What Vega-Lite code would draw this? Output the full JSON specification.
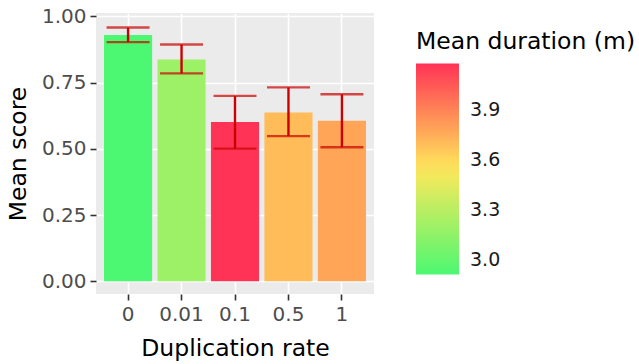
{
  "$schema": "https://vega.github.io/schema/vega-lite/v6.json",
  "autosize": {"type": "none"},
  "width": 278,
  "height": 281,
  "padding": {"left": 96, "top": 13, "right": 265, "bottom": 70},
  "background": "white",
  "config": {
    "font": "DejaVu Sans",
    "view": {"fill": "#EBEBEB", "stroke": null},
    "axis": {
      "domain": false,
      "grid": true,
      "gridColor": "white",
      "gridWidth": 1.6,
      "tickColor": "#333333",
      "tickWidth": 1.6,
      "tickSize": 6,
      "labelColor": "#4D4D4D",
      "labelFontSize": 20,
      "titleFontSize": 23.5,
      "titleFontWeight": "normal",
      "titleColor": "black"
    },
    "legend": {
      "titleFontSize": 23.5,
      "titleFontWeight": "normal",
      "titleColor": "black",
      "titleLimit": 400,
      "labelFontSize": 19,
      "labelColor": "#1A1A1A"
    }
  },
  "data": {
    "values": [
      {"rate": "0", "score": 0.930, "lo": 0.903, "hi": 0.958, "duration": 2.916},
      {"rate": "0.01", "score": 0.837, "lo": 0.785, "hi": 0.894, "duration": 3.20},
      {"rate": "0.1", "score": 0.601, "lo": 0.501, "hi": 0.700, "duration": 4.177},
      {"rate": "0.5", "score": 0.637, "lo": 0.548, "hi": 0.732, "duration": 3.70},
      {"rate": "1", "score": 0.606, "lo": 0.506, "hi": 0.706, "duration": 3.78}
    ]
  },
  "encoding": {
    "x": {
      "field": "rate",
      "type": "ordinal",
      "sort": null,
      "scale": {"paddingInner": 0.1, "paddingOuter": 0.15},
      "axis": {"title": "Duplication rate", "labelAngle": 0, "labelPadding": 4, "titlePadding": 12, "bandPosition": 0.5}
    }
  },
  "layer": [
    {
      "mark": {"type": "bar"},
      "encoding": {
        "y": {
          "field": "score",
          "type": "quantitative",
          "scale": {"domain": [-0.048, 1.013], "nice": false, "zero": false},
          "axis": {"title": "Mean score", "values": [0, 0.25, 0.5, 0.75, 1], "format": ".2f", "labelPadding": 4, "titlePadding": 11}
        },
        "color": {
          "field": "duration",
          "type": "quantitative",
          "title": "Mean duration (m)",
          "scale": {
            "domain": [2.916, 4.177],
            "domainMid": 3.5465,
            "range": ["#4CF872", "#FFE85A", "#FF3355"],
            "interpolate": "rgb"
          },
          "legend": {
            "orient": "none",
            "legendX": 320,
            "legendY": 17,
            "gradientLength": 211,
            "gradientThickness": 43,
            "gradientStrokeWidth": 0,
            "values": [3.0, 3.3, 3.6, 3.9],
            "format": ".1f",
            "labelOffset": 11,
            "titlePadding": 10
          }
        }
      }
    },
    {
      "mark": {"type": "rule", "color": "#CC0000", "strokeWidth": 2.4},
      "encoding": {
        "y": {"field": "lo", "type": "quantitative", "axis": null},
        "y2": {"field": "hi"}
      }
    },
    {
      "mark": {"type": "tick", "color": "#CC0000", "thickness": 2.4, "size": 43, "orient": "horizontal"},
      "encoding": {"y": {"field": "lo", "type": "quantitative", "axis": null}}
    },
    {
      "mark": {"type": "tick", "color": "#CC0000", "thickness": 2.4, "size": 43, "orient": "horizontal"},
      "encoding": {
        "y": {
          "field": "hi",
          "type": "quantitative",
          "axis": {"orient": "right", "values": [0.125, 0.375, 0.625, 0.875], "labels": false, "ticks": false, "title": null, "gridWidth": 0.7}
        }
      }
    }
  ],
  "resolve": {"axis": {"y": "independent"}}
}
